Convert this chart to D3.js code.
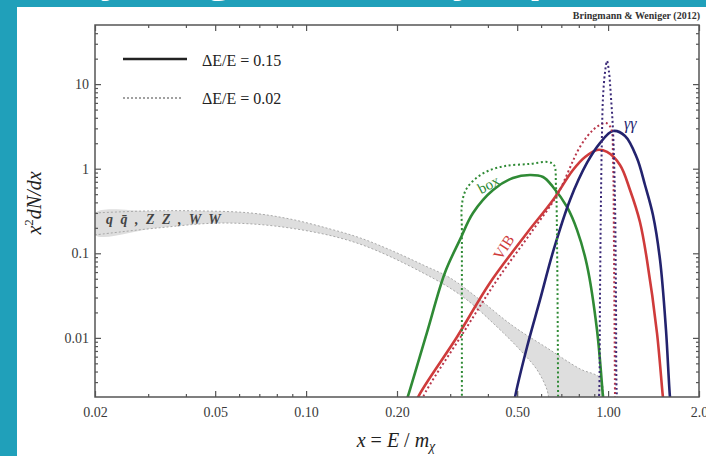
<!doctype html>
<html>
<head>
<meta charset="utf-8">
<title>x^2 dN/dx</title>
<script src="https://cdn.jsdelivr.net/npm/d3@7"></script>
<style>
  body { margin: 0; background: #20a0ba; }
  svg { display: block; }
  .tick text { font-family: "Liberation Serif", serif; font-size: 14px; fill: #3a3a3a; }
  .axis path { display: none; }
  .axis line { stroke: #555; stroke-width: 1.2; }
</style>
</head>
<body>
<div id="chart"></div>
<script>
// ---- data ----
var xTickValues = [0.02, 0.05, 0.1, 0.2, 0.5, 1, 2];
var xTickLabels = ["0.02", "0.05", "0.10", "0.20", "0.50", "1.00", "2.0"];
var yTickValues = [0.01, 0.1, 1, 10];
var yTickLabels = ["0.01", "0.1", "1", "10"];

// box, dE/E = 0.15 (solid) and 0.02 (dotted)
var boxWide = [[0.2126,0.00161],[0.217,0.002],[0.251,0.0114],[0.288,0.0586],[0.323,0.144],[0.357,0.300],
  [0.416,0.561],[0.484,0.777],[0.551,0.843],[0.609,0.798],[0.657,0.608],[0.731,0.353],[0.789,0.189],
  [0.851,0.0728],[0.919,0.0124],[0.962,0.002],[0.968,0.00161]];
var boxNarrow = [[0.328,0.00161],[0.328,0.002],[0.328,0.0281],[0.328,0.189],[0.328,0.373],[0.338,0.561],
  [0.363,0.756],[0.400,0.940],[0.456,1.077],[0.551,1.14],[0.632,1.20],[0.662,1.107],[0.672,0.642],
  [0.678,0.1095],[0.683,0.002],[0.683,0.00161]];

// VIB
var vibWide = [[0.231,0.00161],[0.235,0.002],[0.316,0.01025],[0.406,0.0446],[0.539,0.174],[0.657,0.427],
  [0.765,0.966],[0.839,1.376],[0.919,1.666],[0.992,1.577],[1.095,1.107],[1.182,0.561],[1.275,0.2345],
  [1.345,0.0834],[1.452,0.0114],[1.519,0.002],[1.531,0.00161]];
var vibNarrow = [[0.240,0.00161],[0.244,0.002],[0.331,0.0114],[0.429,0.0484],[0.564,0.189],[0.678,0.489],
  [0.807,1.81],[0.891,2.87],[0.940,3.29],[0.984,3.47],[1.022,3.03],[1.038,1.27],[1.046,0.1095],
  [1.054,0.002],[1.054,0.00161]];

// gamma gamma line
var lineWide = [[0.488,0.00161],[0.492,0.002],[0.539,0.00781],[0.595,0.0281],[0.657,0.1037],[0.748,0.427],
  [0.851,1.169],[0.940,2.01],[1.038,2.79],[1.138,2.44],[1.246,1.34],[1.325,0.642],[1.408,0.284],
  [1.486,0.0834],[1.555,0.0124],[1.603,0.002],[1.616,0.00161]];
var lineNarrow = [[0.926,0.00161],[0.933,0.002],[0.940,0.0281],[0.947,0.427],[0.955,2.87],[0.962,7.05],
  [0.977,13.9],[0.992,18.8],[1.007,13.9],[1.022,7.05],[1.038,2.87],[1.054,0.427],[1.062,0.0281],
  [1.070,0.002],[1.079,0.00161]];

// q qbar, ZZ, WW band
var bandUpper = [[0.02,0.300],[0.0304,0.317],[0.0445,0.317],[0.0652,0.300],[0.0884,0.2545],[0.120,0.194],
  [0.151,0.152],[0.190,0.1095],[0.244,0.0728],[0.300,0.0511],[0.377,0.0281],[0.484,0.01384],
  [0.628,0.0076],[0.807,0.0043],[0.940,0.00336],[0.969,0.002],[0.977,0.00161]];
var bandLower = [[0.02,0.165],[0.0321,0.199],[0.0531,0.228],[0.0884,0.199],[0.147,0.1325],[0.244,0.0586],
  [0.331,0.0305],[0.429,0.01347],[0.511,0.0072],[0.582,0.00418],[0.628,0.00242],[0.642,0.00161]];

var green = "#2f8a35", red = "#cf3b3b", navy = "#23236e";

// ---- layout ----
var width = 706, height = 456;
var pLeft = 95, pRight = 699, pTop = 25, pBottom = 397;

var svg = d3.select("#chart").append("svg")
  .attr("width", width)
  .attr("height", height);

svg.append("rect").attr("width", width).attr("height", height).attr("fill", "#20a0ba");

// bits of the slide title peeking through at the top
var titleBits = [["y", 100], ["g", 207], ["y", 452], ["p", 528]];
svg.selectAll(".titlebit").data(titleBits).enter().append("text")
  .attr("class", "titlebit")
  .attr("x", function(d){ return d[1]; })
  .attr("y", -10)
  .attr("fill", "#fff")
  .style("font-family", "Open Sans, sans-serif")
  .style("font-weight", "bold")
  .style("font-size", "46px")
  .text(function(d){ return d[0]; });

svg.append("rect").attr("x", 17).attr("y", 7).attr("width", width - 17).attr("height", height - 7).attr("fill", "#fff");

var x = d3.scaleLog().domain([0.02, 2]).range([pLeft, pRight]);
var y = d3.scaleLog().domain([0.002, 50]).range([pBottom, pTop]);

svg.append("clipPath").attr("id", "plot")
  .append("rect").attr("x", pLeft).attr("y", pTop).attr("width", pRight - pLeft).attr("height", pBottom - pTop);

var plot = svg.append("g").attr("clip-path", "url(#plot)");

var line = d3.line()
  .x(function(d){ return x(d[0]); })
  .y(function(d){ return y(d[1]); })
  .curve(d3.curveCatmullRom.alpha(0.5));

// band
var bandPoly = bandUpper.concat(bandLower.slice().reverse());
plot.append("path")
  .attr("d", d3.line().x(function(d){ return x(d[0]); }).y(function(d){ return y(d[1]); })
    .curve(d3.curveCatmullRomClosed.alpha(0.5))(bandPoly))
  .attr("fill", "#dedede");
[bandUpper, bandLower].forEach(function(b){
  plot.append("path").attr("d", line(b))
    .attr("fill", "none").attr("stroke", "#a9a9a9").attr("stroke-width", 1)
    .attr("stroke-dasharray", "2,2");
});

var curves = [
  {d: boxWide, c: green, dot: false},
  {d: vibWide, c: red, dot: false},
  {d: lineWide, c: navy, dot: false},
  {d: boxNarrow, c: green, dot: true},
  {d: vibNarrow, c: "#b8364a", dot: true},
  {d: lineNarrow, c: "#3b2a78", dot: true}
];

plot.selectAll(".curve").data(curves).enter().append("path")
  .attr("class", "curve")
  .attr("d", function(d){ return line(d.d); })
  .attr("fill", "none")
  .attr("stroke", function(d){ return d.c; })
  .attr("stroke-width", function(d){ return d.dot ? 2 : 2.6; })
  .attr("stroke-dasharray", function(d){ return d.dot ? "2,2.6" : null; });

// frame + ticks (all inward, Mathematica style)
var xMinor = x.ticks().filter(function(t){ return xTickValues.indexOf(+t.toPrecision(3)) < 0; });
var yMinor = y.ticks().filter(function(t){
  var v = +t.toPrecision(3);
  return yTickValues.indexOf(v) < 0 && v > 0.002 && v < 50;
});

function lab(vals, labs){ return function(d){ return labs[vals.indexOf(+d.toPrecision(3))]; }; }

svg.append("g").attr("class", "axis").attr("transform", "translate(0," + pBottom + ")")
  .call(d3.axisBottom(x).tickValues(xTickValues).tickSize(-6).tickPadding(10).tickFormat(lab(xTickValues, xTickLabels)));
svg.append("g").attr("class", "axis").attr("transform", "translate(0," + pBottom + ")")
  .call(d3.axisBottom(x).tickValues(xMinor).tickSize(-3).tickFormat(""));
svg.append("g").attr("class", "axis").attr("transform", "translate(0," + pTop + ")")
  .call(d3.axisTop(x).tickValues(xTickValues).tickSize(-6).tickFormat(""));
svg.append("g").attr("class", "axis").attr("transform", "translate(0," + pTop + ")")
  .call(d3.axisTop(x).tickValues(xMinor).tickSize(-3).tickFormat(""));

svg.append("g").attr("class", "axis").attr("transform", "translate(" + pLeft + ",0)")
  .call(d3.axisLeft(y).tickValues(yTickValues).tickSize(-6).tickPadding(6).tickFormat(lab(yTickValues, yTickLabels)));
svg.append("g").attr("class", "axis").attr("transform", "translate(" + pLeft + ",0)")
  .call(d3.axisLeft(y).tickValues(yMinor).tickSize(-3).tickFormat(""));
svg.append("g").attr("class", "axis").attr("transform", "translate(" + pRight + ",0)")
  .call(d3.axisRight(y).tickValues(yTickValues).tickSize(-6).tickFormat(""));
svg.append("g").attr("class", "axis").attr("transform", "translate(" + pRight + ",0)")
  .call(d3.axisRight(y).tickValues(yMinor).tickSize(-3).tickFormat(""));

svg.append("rect")
  .attr("x", pLeft).attr("y", pTop).attr("width", pRight - pLeft).attr("height", pBottom - pTop)
  .attr("fill", "none").attr("stroke", "#555").attr("stroke-width", 1.5);

// curve labels
function serif(sel, size){
  return sel.style("font-family", "Liberation Serif, serif").style("font-size", size + "px");
}
serif(svg.append("text"), 15).attr("transform", "translate(491,189) rotate(-28)")
  .attr("text-anchor", "middle").attr("fill", green).text("box");
serif(svg.append("text"), 15).attr("transform", "translate(508,250) rotate(-57)")
  .attr("text-anchor", "middle").attr("fill", red).text("VIB");
serif(svg.append("text"), 16).attr("x", 624).attr("y", 129)
  .style("font-style", "italic").attr("fill", navy).text("γγ");

serif(svg.append("text"), 14).attr("x", 106).attr("y", 224)
  .style("font-style", "italic").style("font-weight", "bold").style("letter-spacing", "2px")
  .attr("fill", "#444").text("q q\u0304 , Z Z , W W");

// legend
svg.append("line").attr("x1", 123).attr("x2", 187).attr("y1", 59).attr("y2", 59)
  .attr("stroke", "#222").attr("stroke-width", 2.6);
svg.append("line").attr("x1", 123).attr("x2", 183).attr("y1", 98).attr("y2", 98)
  .attr("stroke", "#444").attr("stroke-width", 1.2).attr("stroke-dasharray", "2,2");
serif(svg.append("text"), 16).attr("x", 202).attr("y", 66).attr("fill", "#222").text("ΔE/E = 0.15");
serif(svg.append("text"), 16).attr("x", 202).attr("y", 104).attr("fill", "#222").text("ΔE/E = 0.02");

// citation
serif(svg.append("text"), 10).attr("x", 700).attr("y", 19).attr("text-anchor", "end")
  .style("font-weight", "bold").attr("fill", "#333").text("Bringmann & Weniger (2012)");

// axis titles
var yt = serif(svg.append("text"), 20).attr("transform", "translate(41,203) rotate(-90)")
  .attr("text-anchor", "middle").attr("fill", "#222").style("font-style", "italic");
yt.append("tspan").text("x");
yt.append("tspan").attr("dy", -8).style("font-size", "13px").style("font-style", "normal").text("2");
yt.append("tspan").attr("dy", 8).text("dN/dx");

var xt = serif(svg.append("text"), 20).attr("x", 396).attr("y", 447)
  .attr("text-anchor", "middle").attr("fill", "#222");
xt.append("tspan").style("font-style", "italic").text("x");
xt.append("tspan").text(" = ");
xt.append("tspan").style("font-style", "italic").text("E");
xt.append("tspan").text(" / ");
xt.append("tspan").style("font-style", "italic").text("m");
xt.append("tspan").attr("dy", 4).style("font-size", "14px").style("font-style", "italic").text("χ");
</script>
</body>
</html>
